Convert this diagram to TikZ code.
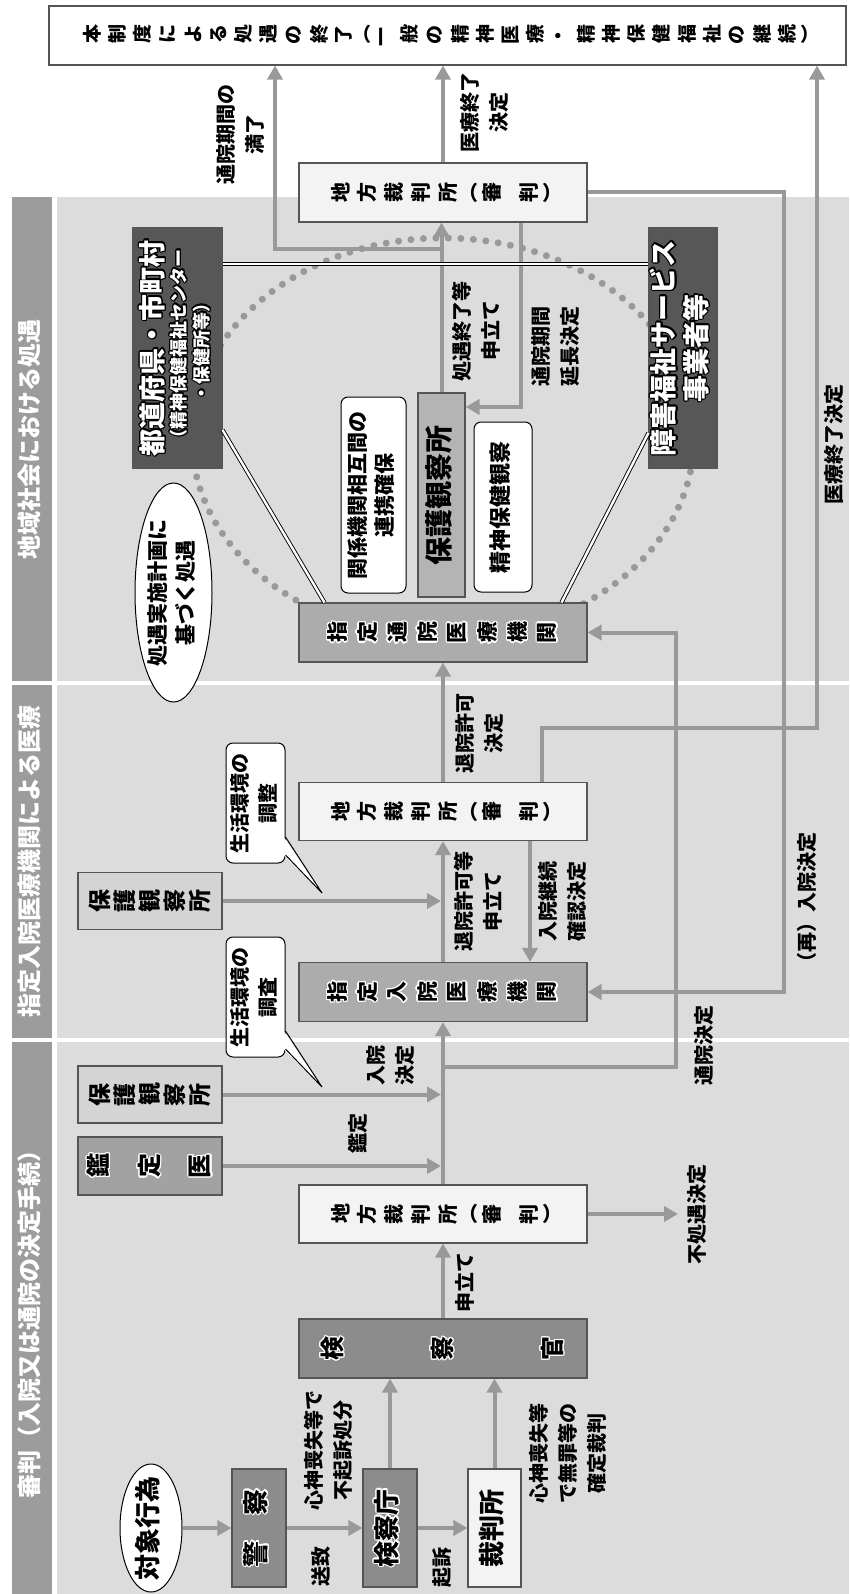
\documentclass[tikz,border=0pt]{standalone}
\usepackage{fontspec}
\setmainfont{Noto Sans CJK JP}
\usepackage{graphicx}
\usepackage[copies]{contour}
\contourlength{1.3pt}
\usetikzlibrary{arrows.meta,shapes.geometric,calc}

\definecolor{bggray}{HTML}{DCDCDC}
\definecolor{headgray}{HTML}{9C9C9C}
\definecolor{arrowgray}{HTML}{999999}
\definecolor{edgegray}{HTML}{555555}
\definecolor{darkfill}{HTML}{575757}
\definecolor{midfill}{HTML}{8C8C8C}
\definecolor{docfill}{HTML}{A2A2A2}
\definecolor{hospfill}{HTML}{ACACAC}
\definecolor{probfill}{HTML}{B4B4B4}
\definecolor{lightfill}{HTML}{D4D4D4}
\definecolor{courtfill}{HTML}{F3F3F3}
\definecolor{dotgray}{HTML}{999999}

% glow round the glyphs of the grey boxes
\newcommand\glow[1]{#1}
\newcommand\whiteglow[1]{\contour{white}{#1}}
\newcommand\blackglow[1]{\contour{black}{#1}}
% horizontal text of the original, turned a quarter left
\newcommand\yoko[1]{\rotatebox{90}{\begin{tabular}{@{}c@{}}#1\end{tabular}}}
% vertical (tategaki) text of the original: one turned glyph after another
\newdimen\tatep
\newcommand\tate[2][24pt]{\tatep=#1\relax\tateloop#2\relax}
\def\tateloop#1{\ifx\relax#1\else\tatechar{#1}\expandafter\tateloop\fi}
\def\tatechar#1{%
  \ifx#1（\makebox[.6\tatep][r]{\glow{（}}%
  \else\ifx#1）\makebox[.6\tatep][l]{\glow{）}}%
  \else\ifx#1ー\makebox[\tatep]{\glow{ー}}%
  \else\ifx#1|\hspace{.4\tatep}%
  \else\makebox[\tatep]{\rotatebox[origin=c]{90}{\glow{#1}}}%
  \fi\fi\fi\fi}

\begin{document}
\begin{tikzpicture}[
    x=1pt, y=-1pt,
    every node/.style={inner sep=0pt},
    lbl/.style={font=\fontsize{20}{29}\selectfont\bfseries},
    headbox/.style={fill=headgray, text=white, minimum width=40pt, font=\fontsize{24}{28}\selectfont\bfseries},
    box/.style={draw=edgegray, line width=1.1pt, font=\fontsize{20}{24}\selectfont\bfseries},
    haloW/.style={execute at begin node={\let\glow\whiteglow}},
    haloB/.style={execute at begin node={\let\glow\blackglow}},
    courtbox/.style={box, fill=courtfill, minimum width=288pt, minimum height=58pt},
    prosbox/.style={box, haloW, fill=midfill, minimum width=54pt, minimum height=118pt, font=\fontsize{26}{30}\selectfont\bfseries},
    hospbox/.style={box, haloW, fill=hospfill, minimum width=288pt, minimum height=59pt, font=\fontsize{21}{24}\selectfont\bfseries},
    probbox/.style={box, fill=lightfill, minimum width=144pt, minimum height=57pt, font=\fontsize{23}{26}\selectfont\bfseries},
    darkbox/.style={box, haloB, fill=darkfill, text=white, minimum height=240pt},
    roundbox/.style={draw=black, line width=1pt, fill=white, rounded corners=7pt},
    callbox/.style={roundbox, minimum width=59pt, minimum height=120pt, font=\fontsize{20}{28}\selectfont\bfseries},
    oval/.style={ellipse, draw=black, line width=1pt, fill=white},
    arr/.style={draw=arrowgray, line width=4pt, -{Triangle[length=14pt,width=15pt]}},
    dbl/.style={draw=black, line width=0.9pt, double=white, double distance=2.4pt},
    dotring/.style={draw=dotgray, line width=7pt, line cap=round, dash pattern=on 0pt off 12.5pt},
]
    \useasboundingbox (0,0) rectangle (849,1594);

    % bands
    \fill[bggray] (57,197) rectangle (849,681);
    \fill[bggray] (57,685) rectangle (849,1038);
    \fill[bggray] (57,1042) rectangle (849,1594);
    \node[headbox, minimum height=484pt] (hdcom) at (32,439) {\yoko{地域社会における処遇}};
    \node[headbox, minimum height=353pt] (hdhosp) at (32,861.5) {\yoko{指定入院医療機関による医療}};
    \node[headbox, minimum height=552pt] (hdtrial) at (32,1318) {\yoko{審判（入院又は通院の決定手続）}};

    % ring of the community care
    \draw[dotring] (443,438) ellipse [x radius=251pt, y radius=200pt];

    % end of the care
    \node[box, fill=white, minimum width=797pt, minimum height=59pt, font=\fontsize{19}{22}\selectfont\bfseries] (endbox) at (447.5,35.5)
        {\tate[25.2pt]{本制度による処遇の終了（一般の精神医療・精神保健福祉の継続）}};

    % trial band
    \node[oval, minimum width=62pt, minimum height=128pt, inner xsep=0pt, inner ysep=-8pt, font=\fontsize{26}{30}\selectfont\bfseries] (act) at (151,1528) {\yoko{対象行為}};
    \node[prosbox] (police) at (259,1528) {\yoko{\glow{警}\hspace{26pt}\glow{察}}};
    \node[prosbox] (prosoff) at (390,1528) {\yoko{\glow{検察庁}}};
    \node[box, fill=courtfill, minimum width=53pt, minimum height=118pt, font=\fontsize{26}{30}\selectfont\bfseries] (court0) at (494.5,1528) {\yoko{裁判所}};
    \node[box, haloW, fill=midfill, minimum width=288pt, minimum height=59pt, font=\fontsize{24}{28}\selectfont\bfseries] (prosecutor) at (443,1348.5)
        {\tate{検}\hspace{86pt}\tate{察}\hspace{86pt}\tate{官}};
    \node[courtbox] (court1) at (443,1214) {\tate[27pt]{地方裁判所（審|判）}};
    \node[box, haloW, fill=docfill, minimum width=144pt, minimum height=58pt, font=\fontsize{24}{28}\selectfont\bfseries] (doctor) at (150,1166)
        {\tate{鑑}\hspace{27pt}\tate{定}\hspace{27pt}\tate{医}};
    \node[probbox] (probA) at (150,1094.5) {\tate[25pt]{保護観察所}};
    \node[callbox] (callA) at (255.5,997) {\yoko{生活環境の\\調査}};

    % hospital band
    \node[hospbox] (hosp) at (443,992) {\tate[30pt]{指定入院医療機関}};
    \node[probbox] (probB) at (150,901) {\tate[25pt]{保護観察所}};
    \node[callbox] (callB) at (255.5,803) {\yoko{生活環境の\\調整}};
    \node[courtbox] (court2) at (443,811.5) {\tate[27pt]{地方裁判所（審|判）}};

    % community band
    \node[hospbox] (clinic) at (443,632.5) {\tate[30pt]{指定通院医療機関}};
    \node[darkbox, minimum width=89pt, font=\fontsize{18}{23}\selectfont\bfseries] (pref) at (177.5,348)
        {\yoko{{\fontsize{27}{27}\selectfont\glow{都道府県・市町村}}\\\glow{（精神保健福祉センター}\\\glow{・保健所等）}}};
    \node[darkbox, minimum width=68pt, font=\fontsize{27}{31}\selectfont\bfseries] (welfare) at (683,348) {\yoko{\glow{障害福祉サービス}\\\glow{事業者等}}};
    \node[roundbox, minimum width=65pt, minimum height=196pt, font=\fontsize{21}{27}\selectfont\bfseries] (liaison) at (373.5,495) {\yoko{関係機関相互間の\\連携確保}};
    \node[box, fill=probfill, minimum width=47pt, minimum height=204pt, font=\fontsize{28}{30}\selectfont\bfseries] (probC) at (441.5,495) {\yoko{保護観察所}};
    \node[roundbox, minimum width=58pt, minimum height=170pt, font=\fontsize{22}{26}\selectfont\bfseries] (watch) at (503,507) {\yoko{精神保健観察}};
    \node[oval, minimum width=77pt, minimum height=219pt, inner xsep=-2pt, font=\fontsize{21}{28}\selectfont\bfseries] (plan) at (173.5,592.5) {\yoko{処遇実施計画に\\基づく処遇}};
    \node[courtbox, minimum height=59pt] (court3) at (443,192.5) {\tate[27pt]{地方裁判所（審|判）}};

    % labels
    \node[lbl] (sochi) at (323,1566) {\yoko{送致}};
    \node[lbl] (kiso) at (444,1567) {\yoko{起訴}};
    \node[lbl] (fukiso) at (330,1450) {\yoko{心神喪失等で\\不起訴処分}};
    \node[lbl] (muzai) at (570,1453) {\yoko{心神喪失等\\で無罪等の\\確定裁判}};
    \node[lbl] (moushi) at (467,1282) {\yoko{申立て}};
    \node[lbl, anchor=west] (fusho) at (684,1214) {\yoko{不処遇決定}};
    \node[lbl] (kantei) at (360,1133) {\yoko{鑑定}};
    \node[lbl] (nyuin) at (392,1065) {\yoko{入院\\決定}};
    \node[lbl] (tsuin) at (706,1045) {\yoko{通院決定}};
    \node[lbl] (sainyuin) at (809,902) {\yoko{（再）入院決定}};
    \node[lbl] (taiinA) at (480,901) {\yoko{退院許可等\\申立て}};
    \node[lbl] (keizoku) at (564,901) {\yoko{入院継続\\確認決定}};
    \node[lbl] (taiinB) at (481,733) {\yoko{退院許可\\決定}};
    \node[lbl] (iryoA) at (836,444) {\yoko{医療終了決定}};
    \node[lbl] (shogu) at (478,331) {\yoko{処遇終了等\\申立て}};
    \node[lbl] (encho) at (557,346) {\yoko{通院期間\\延長決定}};
    \node[lbl] (manki) at (242,135) {\yoko{通院期間の\\満了}};
    \node[lbl] (iryoB) at (486,113) {\yoko{医療終了\\決定}};

    % turning points
    \coordinate (tsuinj) at (443,1067);
    \coordinate (tsuinc) at (676,1067);
    \coordinate (keizokux) at (530,0);
    \coordinate (saix) at (784,192.5);
    \coordinate (iryox) at (542,0);
    \coordinate (iryoc) at (817,728);
    \coordinate (mankij) at (441.5,249);
    \coordinate (mankic) at (275,249);
    \coordinate (enchoc) at (521,407);
    \coordinate (dbly) at (0,264);

    % arrows, trial band
    \draw[arr] (act) -- (police);
    \draw[arr] (police) -- (prosoff);
    \draw[arr] (prosoff) -- (court0);
    \draw[arr] (prosoff.north) -- (prosoff.north |- prosecutor.south);
    \draw[arr] (court0.north) -- (court0.north |- prosecutor.south);
    \draw[arr] (prosecutor) -- (court1);
    \draw[arr, shorten >=6pt] (court1) -- (fusho);
    \draw[arr] (court1) -- (hosp);
    \draw[arr, shorten >=2pt] (doctor) -- (doctor -| court1);
    \draw[arr, shorten >=2pt] (probA) -- (probA -| court1);
    \draw[arr] (tsuinj) -- (tsuinc) |- (clinic.east);

    % arrows, hospital band
    \draw[arr, shorten >=2pt] (probB) -- (probB -| court1);
    \draw[arr] (hosp) -- (court2);
    \draw[arr] (court2.south -| keizokux) -- (hosp.north -| keizokux);
    \draw[arr] (court3.east) -- (saix) |- (hosp.east);
    \draw[arr] (court2) -- (clinic);
    \draw[arr] (court2.north -| iryox) |- (iryoc) -- (iryoc |- endbox.south);

    % arrows, community band
    \draw[arr] (probC) -- (probC |- court3.south);
    \draw[arr] (mankij) -- (mankic) -- (mankic |- endbox.south);
    \draw[arr] (court3.south -| enchoc) -- (enchoc) -- (enchoc -| probC.east);
    \draw[arr] (court3) -- (court3 |- endbox.south);

    % links of the three bodies
    \draw[dbl] (pref.east |- dbly) -- (welfare.west |- dbly);
    \draw[dbl] ($(pref.east)+(0,82)$) -- ($(clinic.north west)+(26,0)$);
    \draw[dbl] ($(welfare.west)+(0,85)$) -- ($(clinic.north east)+(-26,0)$);

    % callout tails
    \coordinate (callAtip) at (322,1087);
    \coordinate (callBtip) at (322,893);
    \fill[white] ($(callA.east)+(-2,34)$) -- (callAtip) -- ($(callA.east)+(-2,52)$) -- cycle;
    \draw[line width=1pt] ($(callA.east)+(0,34)$) -- (callAtip) -- ($(callA.east)+(0,52)$);
    \fill[white] ($(callB.east)+(-2,34)$) -- (callBtip) -- ($(callB.east)+(-2,52)$) -- cycle;
    \draw[line width=1pt] ($(callB.east)+(0,34)$) -- (callBtip) -- ($(callB.east)+(0,52)$);
\end{tikzpicture}
\end{document}
